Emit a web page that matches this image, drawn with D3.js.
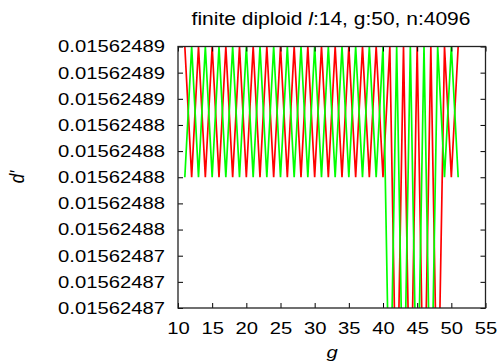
<!DOCTYPE html>
<html>
<head>
<meta charset="utf-8">
<script src="https://cdn.jsdelivr.net/npm/d3@7"></script>
<style>
  body { margin: 0; background: #fff; }
  text { font-family: "Liberation Sans", Arial, sans-serif; }
</style>
</head>
<body>
<div id="chart"></div>
<script>
// generations on the x axis
var gens = [11, 12, 13, 14, 15, 16, 17, 18, 19, 20, 21, 22, 23, 24, 25, 26, 27, 28, 29, 30,
  31, 32, 33, 34, 35, 36, 37, 38, 39, 40, 41, 42, 43, 44, 45, 46, 47, 48, 49, 50, 51];

// d' values, red series
var redVals = [0.01562489, 0.01562488, 0.01562489, 0.01562488, 0.01562489, 0.01562488, 0.01562489, 0.01562488,
  0.01562489, 0.01562488, 0.01562489, 0.01562488, 0.01562489, 0.01562488, 0.01562489, 0.01562488,
  0.01562489, 0.01562488, 0.01562489, 0.01562488, 0.01562489, 0.01562488, 0.01562489, 0.01562488,
  0.01562489, 0.01562488, 0.01562489, 0.01562488, 0.01562489, 0.01562488, 0.01562489, 0.01562486,
  0.01562489, 0.01562486, 0.01562489, 0.01562486, 0.01562489, 0.01562486, 0.01562489, 0.01562488,
  0.01562489];

// d' values, green series
var greenVals = [0.01562488, 0.01562489, 0.01562488, 0.01562489, 0.01562488, 0.01562489, 0.01562488, 0.01562489,
  0.01562488, 0.01562489, 0.01562488, 0.01562489, 0.01562488, 0.01562489, 0.01562488, 0.01562489,
  0.01562488, 0.01562489, 0.01562488, 0.01562489, 0.01562488, 0.01562489, 0.01562488, 0.01562489,
  0.01562488, 0.01562489, 0.01562488, 0.01562489, 0.01562488, 0.01562489, 0.01562486, 0.01562489,
  0.01562486, 0.01562489, 0.01562486, 0.01562489, 0.01562486, 0.01562489, 0.01562488, 0.01562489,
  0.01562488];

var xTicks = [10, 15, 20, 25, 30, 35, 40, 45, 50, 55];
var yTicks = [0.01562487, 0.015624872, 0.015624874, 0.015624876, 0.015624878, 0.01562488,
  0.015624882, 0.015624884, 0.015624886, 0.015624888, 0.01562489];

(function () {
  var W = 501, H = 364;
  var pLeft = 178, pRight = 485.5, pTop = 46.5, pBottom = 308;
  var stretch = 1.19;

  var svg = d3.select('#chart').append('svg')
    .attr('width', W)
    .attr('height', H);

  var x = d3.scaleLinear().domain([10, 55]).range([pLeft, pRight]);
  var y = d3.scaleLinear().domain([0.01562487, 0.01562489]).range([pBottom, pTop]);

  svg.append('defs').append('clipPath').attr('id', 'clip')
    .append('rect')
    .attr('x', pLeft).attr('y', pTop)
    .attr('width', pRight - pLeft).attr('height', pBottom - pTop);

  // the two series
  var line = d3.line()
    .x(function (d) { return x(d.g); })
    .y(function (d) { return y(d.v); });

  var series = [
    { c: '#ff0000', vals: redVals },
    { c: '#00ff00', vals: greenVals }
  ];

  var plot = svg.append('g').attr('clip-path', 'url(#clip)');
  series.forEach(function (s) {
    var pts = gens.map(function (g, i) { return { g: g, v: s.vals[i] }; });
    plot.append('path')
      .datum(pts)
      .attr('d', line)
      .attr('fill', 'none')
      .attr('stroke', s.c)
      .attr('stroke-width', 1.7)
      .attr('stroke-linejoin', 'miter');
  });

  // axes, ticks pointing inwards like gnuplot
  var fmt = d3.format('.8f');

  svg.append('g')
    .attr('transform', 'translate(' + pLeft + ',0)')
    .call(d3.axisLeft(y).tickValues(yTicks).tickSize(-5).tickPadding(11).tickFormat(fmt));
  svg.append('g')
    .attr('transform', 'translate(0,' + pBottom + ')')
    .call(d3.axisBottom(x).tickValues(xTicks).tickSize(-5).tickPadding(14));
  svg.append('g')
    .attr('transform', 'translate(' + pRight + ',0)')
    .call(d3.axisRight(y).tickValues(yTicks).tickSize(-5).tickFormat(''));
  svg.append('g')
    .attr('transform', 'translate(0,' + pTop + ')')
    .call(d3.axisTop(x).tickValues(xTicks).tickSize(-5).tickFormat(''));

  svg.selectAll('.domain').remove();
  svg.selectAll('.tick line').attr('stroke', '#000').attr('stroke-width', 1);
  svg.selectAll('.tick text')
    .attr('font-size', 17)
    .attr('font-family', '"Liberation Sans", Arial, sans-serif')
    .attr('fill', '#000')
    .attr('transform', 'scale(' + stretch + ',1)');

  // frame
  svg.append('rect')
    .attr('x', pLeft).attr('y', pTop)
    .attr('width', pRight - pLeft).attr('height', pBottom - pTop)
    .attr('fill', 'none')
    .attr('stroke', '#222')
    .attr('stroke-width', 1.3);

  // title
  var title = svg.append('text')
    .attr('transform', 'translate(331,25) scale(1.2,1)')
    .attr('text-anchor', 'middle')
    .attr('font-size', 17.5);
  title.append('tspan').text('finite diploid ');
  title.append('tspan').attr('font-style', 'italic').text('l');
  title.append('tspan').text(':14, g:50, n:4096');

  // axis titles
  svg.append('text')
    .attr('transform', 'translate(24,177) rotate(-90) scale(1,' + stretch + ')')
    .attr('text-anchor', 'middle')
    .attr('font-size', 17)
    .attr('font-style', 'italic')
    .text("d'");

  svg.append('text')
    .attr('transform', 'translate(332,358) scale(' + stretch + ',1)')
    .attr('text-anchor', 'middle')
    .attr('font-size', 17)
    .attr('font-style', 'italic')
    .text('g');
})();
</script>
</body>
</html>
